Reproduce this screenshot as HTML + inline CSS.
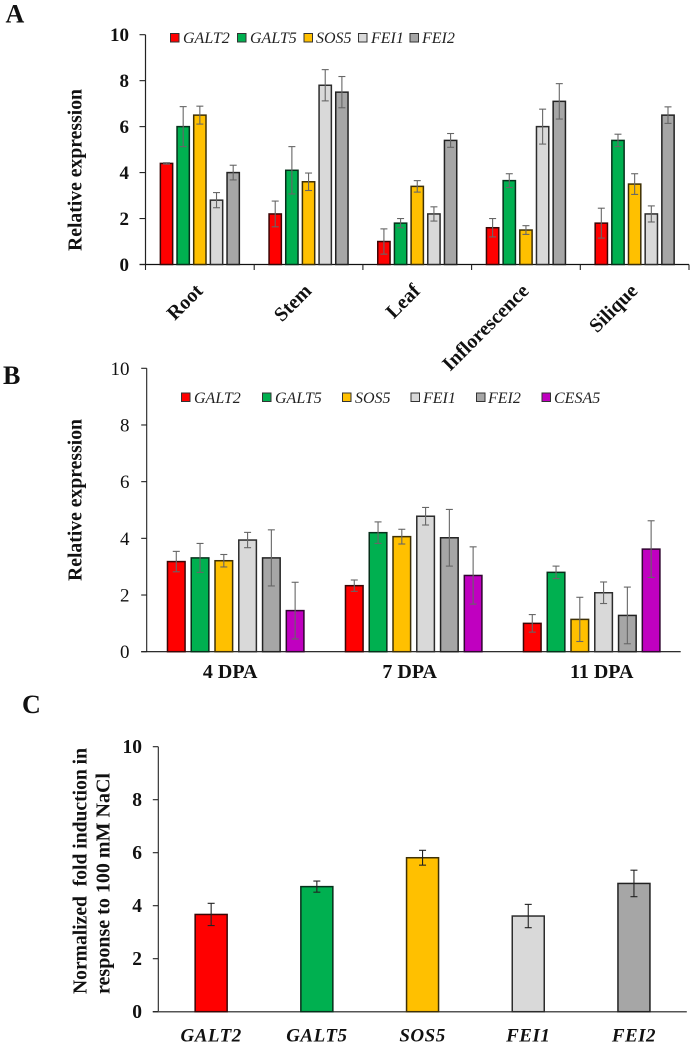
<!DOCTYPE html>
<html lang="en">
<head>
<meta charset="utf-8">
<title>Relative expression charts</title>
<style>
html,body{margin:0;padding:0;background:#fff;}
body{width:692px;height:1045px;overflow:hidden;}
svg{display:block;font-family:"Liberation Serif",serif;}
.panel{font-weight:bold;font-size:26px;fill:#111;}
.ytitle{font-weight:bold;font-size:19.5px;fill:#111;}
.leg{font-style:italic;font-size:16px;fill:#222;}
</style>
</head>
<body>
<svg id="figure" width="692" height="1045" viewBox="0 0 692 1045" xmlns="http://www.w3.org/2000/svg">
  <rect x="0" y="0" width="692" height="1045" fill="#fff"/>
  <text class="panel" x="5.5" y="22.5">A</text>
  <text class="panel" x="3" y="384">B</text>
  <text class="panel" x="22" y="713">C</text>

  <text class="ytitle" transform="translate(81.5,251) rotate(-90)" textLength="162" lengthAdjust="spacingAndGlyphs">Relative expression</text>
  <text class="ytitle" transform="translate(81.5,581) rotate(-90)" textLength="162" lengthAdjust="spacingAndGlyphs">Relative expression</text>
  <text class="ytitle" transform="translate(86.5,994) rotate(-90)" textLength="246" lengthAdjust="spacingAndGlyphs">Normalized&#160; fold induction in</text>
  <text class="ytitle" transform="translate(109.5,994) rotate(-90)" textLength="221" lengthAdjust="spacingAndGlyphs">response to 100 mM NaCl</text>

  <g>
    <rect x="170.5" y="33.5" width="8.5" height="8.5" fill="#ff0000" stroke="#333" stroke-width="1"/>
    <text class="leg" x="183" y="43">GALT2</text>
    <rect x="237.5" y="33.5" width="8.5" height="8.5" fill="#00b050" stroke="#333" stroke-width="1"/>
    <text class="leg" x="250" y="43">GALT5</text>
    <rect x="304" y="33.5" width="8.5" height="8.5" fill="#ffc000" stroke="#333" stroke-width="1"/>
    <text class="leg" x="316" y="43">SOS5</text>
    <rect x="358.5" y="33.5" width="8.5" height="8.5" fill="#d9d9d9" stroke="#333" stroke-width="1"/>
    <text class="leg" x="371" y="43">FEI1</text>
    <rect x="410" y="33.5" width="8.5" height="8.5" fill="#a6a6a6" stroke="#333" stroke-width="1"/>
    <text class="leg" x="422" y="43">FEI2</text>
  </g>

  <g>
    <rect x="181.5" y="393" width="8.5" height="8.5" fill="#ff0000" stroke="#333" stroke-width="1"/>
    <text class="leg" x="194" y="403">GALT2</text>
    <rect x="262.5" y="393" width="8.5" height="8.5" fill="#00b050" stroke="#333" stroke-width="1"/>
    <text class="leg" x="275" y="403">GALT5</text>
    <rect x="342.5" y="393" width="8.5" height="8.5" fill="#ffc000" stroke="#333" stroke-width="1"/>
    <text class="leg" x="355" y="403">SOS5</text>
    <rect x="411" y="393" width="8.5" height="8.5" fill="#d9d9d9" stroke="#333" stroke-width="1"/>
    <text class="leg" x="423" y="403">FEI1</text>
    <rect x="476.5" y="393" width="8.5" height="8.5" fill="#a6a6a6" stroke="#333" stroke-width="1"/>
    <text class="leg" x="488" y="403">FEI2</text>
    <rect x="542" y="393" width="8.5" height="8.5" fill="#c000c0" stroke="#333" stroke-width="1"/>
    <text class="leg" x="554" y="403">CESA5</text>
  </g>
</svg>
<script>
// Panel A data
const aCategories = ['Root', 'Stem', 'Leaf', 'Inflorescence', 'Silique'];
const aGenes = ['galt2', 'galt5', 'sos5', 'fei1', 'fei2'];
const aGalt2 = [4.4, 2.2, 1.0, 1.6, 1.8];
const aGalt5 = [6.0, 4.1, 1.8, 3.65, 5.4];
const aSos5 = [6.5, 3.6, 3.4, 1.5, 3.5];
const aFei1 = [2.8, 7.8, 2.2, 6.0, 2.2];
const aFei2 = [4.0, 7.5, 5.4, 7.1, 6.5];
const aGalt2Err = [0.03, 0.56, 0.55, 0.4, 0.65];
const aGalt5Err = [0.87, 1.03, 0.2, 0.3, 0.27];
const aSos5Err = [0.39, 0.38, 0.25, 0.19, 0.45];
const aFei1Err = [0.33, 0.68, 0.31, 0.76, 0.35];
const aFei2Err = [0.32, 0.68, 0.3, 0.77, 0.36];

// Panel B data
const bCategories = ['4 DPA', '7 DPA', '11 DPA'];
const bGenes = ['galt2', 'galt5', 'sos5', 'fei1', 'fei2', 'cesa5'];
const bGalt2 = [3.18, 2.33, 1.0];
const bGalt5 = [3.31, 4.2, 2.8];
const bSos5 = [3.21, 4.06, 1.14];
const bFei1 = [3.94, 4.78, 2.08];
const bFei2 = [3.31, 4.02, 1.28];
const bCesa5 = [1.45, 2.69, 3.62];
const bGalt2Err = [0.36, 0.2, 0.31];
const bGalt5Err = [0.51, 0.38, 0.22];
const bSos5Err = [0.22, 0.26, 0.78];
const bFei1Err = [0.27, 0.31, 0.38];
const bFei2Err = [0.99, 1.0, 1.0];
const bCesa5Err = [1.0, 1.01, 1.0];

// Panel C data
const cCategories = ['GALT2', 'GALT5', 'SOS5', 'FEI1', 'FEI2'];
const cValues = [3.67, 4.72, 5.81, 3.61, 4.84];
const cErrors = [0.42, 0.21, 0.28, 0.44, 0.5];

// Shared tick labels
const yTicks = [0, 2, 4, 6, 8, 10];

const SVG_NS = 'http://www.w3.org/2000/svg';
const figure = document.getElementById('figure');
const geneFill = {galt2: '#ff0000', galt5: '#00b050', sos5: '#ffc000', fei1: '#d9d9d9', fei2: '#a6a6a6', cesa5: '#c000c0'};
const geneStroke = {galt2: '#3a0606', galt5: '#06301b', sos5: '#3e3006', fei1: '#2c2c2c', fei2: '#222', cesa5: '#300630'};
// Panel B category labels sit off-centre from their groups in the source figure
const bLabelShift = {'4 DPA': -5.5, '7 DPA': -4, '11 DPA': 10};

function make(parent, tag, attrs, text) {
  const el = document.createElementNS(SVG_NS, tag);
  for (const k in attrs) el.setAttribute(k, attrs[k]);
  if (text !== undefined) el.textContent = text;
  parent.appendChild(el);
  return el;
}

function line(parent, x1, y1, x2, y2, color, width) {
  return make(parent, 'line', {x1: x1, y1: y1, x2: x2, y2: y2, stroke: color, 'stroke-width': width});
}

// Draws axes + y ticks for one panel; returns the axis functions
function buildAxes(prefix, o, categories) {
  const group = make(figure, 'g', {});
  
  
  const y = function (v) { return o.y0 - v * (o.y0 - o.y10) / 10; };
  const catW = (o.x1 - o.x0) / categories.length;
  const x = function (i) { return o.x0 + (i + 0.5) * catW; };

  const yAxis = line(group, o.x0, o.y10, o.x0, o.y0, '#222', o.axisWidth);
  
  

  const xAxis = line(group, o.x0 - o.tick, o.y0, o.x1, o.y0, o.xAxisColor, o.xAxisWidth);
  
  

  yTicks.forEach(function (t) {
    const mark = line(group, o.x0 - o.tick, y(t), o.x0, y(t), '#222', 1.1);
    
    
    const label = make(group, 'text', {
      x: o.tickLabelX, y: y(t) + 6.5, 'text-anchor': 'end',
      'font-size': o.tickFont, 'font-weight': o.tickWeight, fill: '#111'
    }, String(t));
    
    
  });

  if (o.catTicks) {
    for (let i = 0; i <= categories.length; i++) {
      const xt = o.x0 + i * catW;
      const mark = line(group, xt, o.y0, xt, o.y0 + 5.5, '#222', 1.1);
      
      
    }
  }
  return {x: x, y: y, group: group};
}

function drawBar(parent, name, cx, width, v, err, gene, y, y0, errColor) {
  const bar = make(parent, 'rect', {
    x: cx - width / 2, y: y(v), width: width, height: y0 - y(v),
    fill: geneFill[gene], stroke: geneStroke[gene], 'stroke-width': 1.5
  });
  
  

  const eb = make(parent, 'g', {stroke: errColor, 'stroke-width': 1.1, fill: 'none'});
  
  
  line(eb, cx, y(v + err), cx, y(v - err), errColor, 1.1);
  line(eb, cx - 3.5, y(v + err), cx + 3.5, y(v + err), errColor, 1.1);
  line(eb, cx - 3.5, y(v - err), cx + 3.5, y(v - err), errColor, 1.1);
}

function drawGrouped(prefix, axes, y0, categories, genes, values, errors, pitch, width) {
  categories.forEach(function (cat, i) {
    genes.forEach(function (gene, s) {
      const cx = axes.x(i) + (s - (genes.length - 1) / 2) * pitch;
      drawBar(axes.group, prefix + '-bar-' + cat.toLowerCase().replace(/\s+/g, '-') + '-' + gene,
        cx, width, values[s][i], errors[s][i], gene, axes.y, y0, '#666');
    });
  });
}

// Panel A
const aOpts = {x0: 145.5, x1: 689, y0: 264.5, y10: 34.7, tick: 6, axisWidth: 1.2, xAxisColor: '#111', xAxisWidth: 1.3,
  tickLabelX: 129, tickFont: 19, tickWeight: 'bold', catTicks: true};
const aAxes = buildAxes('panel-a', aOpts, aCategories);
drawGrouped('panel-a', aAxes, aOpts.y0, aCategories, aGenes,
  [aGalt2, aGalt5, aSos5, aFei1, aFei2],
  [aGalt2Err, aGalt5Err, aSos5Err, aFei1Err, aFei2Err], 16.67, 12.3);
aCategories.forEach(function (cat, i) {
  const px = aAxes.x(i) + 4;
  const label = make(aAxes.group, 'text', {
    'text-anchor': 'end', 'font-size': 20, 'font-weight': 'bold', fill: '#111',
    transform: 'translate(' + px + ',292) rotate(-45)'
  }, cat);
  
  
});

// Panel B
const bOpts = {x0: 146.7, x1: 680.7, y0: 651.7, y10: 368.3, tick: 5.5, axisWidth: 1.1, xAxisColor: '#111', xAxisWidth: 1.2,
  tickLabelX: 129.5, tickFont: 19, tickWeight: 'normal', catTicks: false};
const bAxes = buildAxes('panel-b', bOpts, bCategories);
drawGrouped('panel-b', bAxes, bOpts.y0, bCategories, bGenes,
  [bGalt2, bGalt5, bSos5, bFei1, bFei2, bCesa5],
  [bGalt2Err, bGalt5Err, bSos5Err, bFei1Err, bFei2Err, bCesa5Err], 23.77, 17.6);
bCategories.forEach(function (cat, i) {
  const label = make(bAxes.group, 'text', {
    x: bAxes.x(i) + bLabelShift[cat], y: 678, 'text-anchor': 'middle', 'font-size': 20, 'font-weight': 'bold', fill: '#111'
  }, cat);
  
  
});

// Panel C
const cOpts = {x0: 158.3, x1: 686.8, y0: 1011.7, y10: 746.7, tick: 5.5, axisWidth: 1.1, xAxisColor: '#555', xAxisWidth: 1.5,
  tickLabelX: 142, tickFont: 19.5, tickWeight: 'bold', catTicks: false};
const cAxes = buildAxes('panel-c', cOpts, cCategories);
cCategories.forEach(function (cat, i) {
  drawBar(cAxes.group, 'panel-c-bar-' + cat.toLowerCase(), cAxes.x(i), 32, cValues[i], cErrors[i],
    cat.toLowerCase(), cAxes.y, cOpts.y0, '#222');
  const label = make(cAxes.group, 'text', {
    x: cAxes.x(i), y: 1041.5, 'text-anchor': 'middle', 'font-size': 19, 'font-weight': 'bold',
    'font-style': 'italic', 'letter-spacing': '0.5', fill: '#111'
  }, cat);
  
  
});
</script>
</body>
</html>
